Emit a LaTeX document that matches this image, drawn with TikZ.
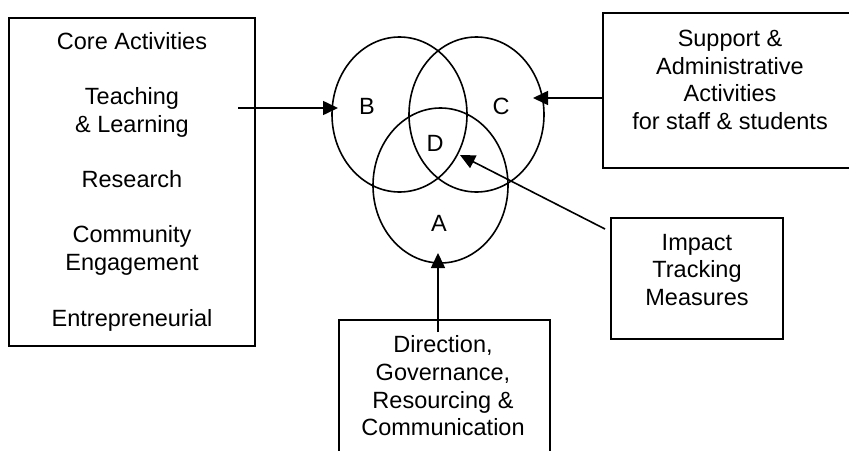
\documentclass[tikz,border=0pt]{standalone}
\usepackage{fontspec}
\setmainfont{Liberation Sans}
\usetikzlibrary{arrows.meta,shapes.geometric}
\begin{document}
\begin{tikzpicture}[x=1pt,y=-1pt,
  box/.style={draw,line width=1.6pt,rectangle,inner sep=0pt},
  txt/.style={align=center,font=\fontsize{23.5}{27.7}\selectfont,inner sep=0pt},
  venn/.style={draw,line width=1.6pt,ellipse,minimum width=135pt,minimum height=155pt,inner sep=0pt},
  lbl/.style={font=\fontsize{23.5}{27.7}\selectfont,inner sep=0pt},
  arr/.style={line width=1.6pt,-{Triangle[length=15pt,width=14pt]}}]
\useasboundingbox (0,0) rectangle (849,450);
\clip (0,0) rectangle (849,450);
% left box
\node[box,minimum width=246pt,minimum height=328pt] (core) at (132,182) {};
\node[txt] (coretxt) at (132,181.5) {Core Activities\\[27.7pt]Teaching\\\& Learning\\[27.7pt]Research\\[27.7pt]Community\\Engagement\\[27.7pt]Entrepreneurial};
% right box
\node[box,minimum width=254pt,minimum height=155pt] (sup) at (730,90.5) {};
\node[txt] (suptxt) at (730,80) {Support \&\\Administrative\\Activities\\for staff \& students};
% impact box
\node[box,minimum width=172pt,minimum height=121pt] (imp) at (697,278.5) {};
\node[txt] (imptxt) at (697,270) {Impact\\Tracking\\Measures};
% bottom box
\node[box,minimum width=211pt,minimum height=160pt] (dir) at (444.5,400) {};
\node[txt] (dirtxt) at (443,386) {Direction,\\Governance,\\Resourcing \&\\Communication};
% venn
\node[venn] (B) at (399.5,114.5) {};
\node[venn] (C) at (476.5,114.5) {};
\node[venn] (A) at (440.5,185.5) {};
\node[lbl] (lB) at (367,106) {B};
\node[lbl] (lC) at (501,106) {C};
\node[lbl] (lD) at (435,143) {D};
\node[lbl] (lA) at (439,223) {A};
% connectors
\coordinate (s1) at (238,108);
\coordinate (e1) at (338,108);
\coordinate (s2) at (603,98);
\coordinate (e2) at (533,98);
\coordinate (s3) at (605,229);
\coordinate (e3) at (460,155);
\coordinate (s4) at (438,332);
\coordinate (e4) at (438,253);
\draw[arr] (s1) -- (e1);
\draw[arr] (s2) -- (e2);
\draw[arr] (s3) -- (e3);
\draw[arr] (s4) -- (e4);
\end{tikzpicture}
\end{document}
